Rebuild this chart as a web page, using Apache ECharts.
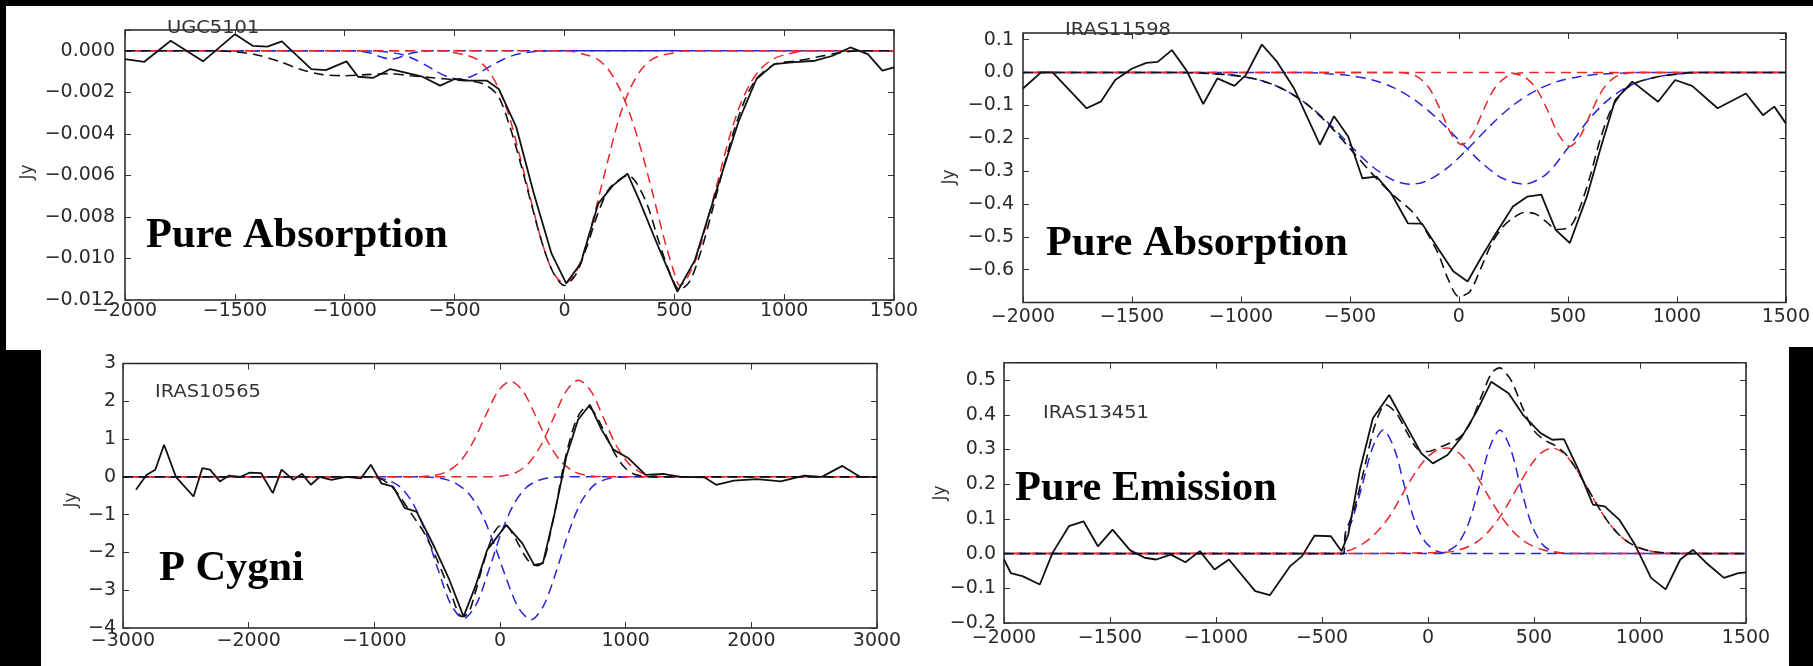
<!DOCTYPE html>
<html><head><meta charset="utf-8">
<script src="https://cdn.jsdelivr.net/npm/echarts@6/dist/echarts.min.js"></script>
<style>html,body{margin:0;padding:0;background:#fff}#c{width:1813px;height:666px}</style>
</head><body><div id="c"></div><script>
// ---------- Panel names / labels ----------
const panelNames = ['UGC5101', 'IRAS11598', 'IRAS10565', 'IRAS13451'];
const panelTypes = ['Pure Absorption', 'Pure Absorption', 'P Cygni', 'Pure Emission'];

// ---------- Tick labels ----------
const xTicks2000 = ['−2000', '−1500', '−1000', '−500', '0', '500', '1000', '1500'];
const xTicks3000 = ['−3000', '−2000', '−1000', '0', '1000', '2000', '3000'];
const ugcYTicks = ['0.000', '−0.002', '−0.004', '−0.006', '−0.008', '−0.010', '−0.012'];
const i11598YTicks = ['0.1', '0.0', '−0.1', '−0.2', '−0.3', '−0.4', '−0.5', '−0.6'];
const i10565YTicks = ['3', '2', '1', '0', '−1', '−2', '−3', '−4'];
const i13451YTicks = ['0.5', '0.4', '0.3', '0.2', '0.1', '0.0', '−0.1', '−0.2'];

// ---------- UGC5101 ----------
const ugcObs = [[-2000,-0.00040],[-1912,-0.00053],[-1792,0.00048],[-1645,-0.00051],[-1499,0.00080],[-1419,0.00024],[-1352,0.00020],[-1286,0.00045],[-1152,-0.00088],[-1086,-0.00093],[-992,-0.00051],[-939,-0.00125],[-872,-0.00131],[-792,-0.00088],[-646,-0.00125],[-566,-0.00168],[-499,-0.00136],[-432,-0.00144],[-352,-0.00144],[-299,-0.00184],[-219,-0.00368],[-139,-0.00688],[-59,-0.00976],[8,-0.01120],[74,-0.01024],[154,-0.00736],[221,-0.00648],[287,-0.00592],[341,-0.00720],[421,-0.00928],[514,-0.01160],[594,-0.01008],[687,-0.00688],[794,-0.00336],[874,-0.00136],[954,-0.00064],[1034,-0.00056],[1141,-0.00048],[1221,-0.00024],[1301,0.00016],[1381,-0.00016],[1447,-0.00096],[1500,-0.00080]];
const ugcFit = [[-2000,0],[-1600,0],[-1500,-0.00005],[-1400,-0.0002],[-1300,-0.0005],[-1200,-0.0009],[-1100,-0.00115],[-1000,-0.0012],[-900,-0.00115],[-800,-0.0011],[-700,-0.0012],[-600,-0.0013],[-500,-0.0014],[-400,-0.0015],[-350,-0.0017],[-300,-0.0022],[-250,-0.0036],[-200,-0.0054],[-150,-0.0074],[-100,-0.0093],[-50,-0.0107],[0,-0.0113],[50,-0.0108],[100,-0.0095],[150,-0.0079],[200,-0.0067],[250,-0.0062],[290,-0.0060],[330,-0.0064],[380,-0.0075],[430,-0.0092],[480,-0.0107],[525,-0.0115],[570,-0.0111],[620,-0.0097],[670,-0.0078],[720,-0.0058],[770,-0.0039],[820,-0.0024],[870,-0.0014],[920,-0.0009],[970,-0.0006],[1050,-0.0005],[1150,-0.0003],[1250,-0.0001],[1350,0],[1500,0]];
const ugcRed1 = [[-2000,0],[-550,0],[-500,-0.0001],[-450,-0.0002],[-400,-0.0004],[-350,-0.0009],[-300,-0.0018],[-250,-0.0032],[-200,-0.0052],[-150,-0.0073],[-100,-0.0093],[-50,-0.0107],[0,-0.0112],[50,-0.0107],[100,-0.0093],[150,-0.0073],[200,-0.0052],[250,-0.0032],[300,-0.0018],[350,-0.0009],[400,-0.0004],[450,-0.0002],[500,-0.0001],[550,0],[1500,0]];
const ugcRed2 = [[-2000,0],[0,0],[100,-0.0002],[150,-0.0004],[200,-0.0009],[250,-0.0018],[300,-0.0031],[350,-0.0048],[400,-0.0068],[450,-0.0089],[500,-0.0107],[525,-0.0113],[550,-0.0111],[600,-0.0100],[650,-0.0082],[700,-0.0062],[750,-0.0042],[800,-0.0026],[850,-0.0015],[900,-0.0008],[950,-0.0004],[1000,-0.0002],[1100,0],[1500,0]];
const ugcBlue1 = [[-2000,0],[-930,0],[-880,-0.00001],[-830,-0.00004],[-780,-0.000095],[-730,-0.00021],[-680,-0.00042],[-630,-0.0007],[-580,-0.00101],[-530,-0.00126],[-480,-0.00136],[-430,-0.00126],[-380,-0.00101],[-330,-0.0007],[-280,-0.00042],[-230,-0.00021],[-180,-0.000095],[-130,-0.00004],[-80,-0.00001],[0,0],[1500,0]];
const ugcBlue2 = [[-2000,0],[-950,0],[-890,-0.0001],[-840,-0.00028],[-790,-0.0004],[-740,-0.00028],[-690,-0.0001],[-640,-0.00002],[-600,0],[1500,0]];

// ---------- IRAS11598 ----------
const i11598Obs = [[-2000,-0.049],[-1917,0.0],[-1864,0.0],[-1708,-0.109],[-1643,-0.089],[-1577,-0.023],[-1499,0.012],[-1434,0.029],[-1382,0.032],[-1317,0.068],[-1251,0.007],[-1173,-0.096],[-1108,-0.018],[-1030,-0.041],[-978,-0.008],[-904,0.085],[-834,0.032],[-756,-0.049],[-638,-0.22],[-573,-0.133],[-508,-0.195],[-443,-0.322],[-378,-0.317],[-312,-0.367],[-234,-0.459],[-169,-0.46],[-91,-0.54],[-26,-0.605],[40,-0.636],[105,-0.56],[170,-0.489],[248,-0.408],[313,-0.378],[378,-0.372],[444,-0.479],[509,-0.519],[587,-0.378],[652,-0.226],[717,-0.084],[796,-0.028],[914,-0.089],[992,-0.023],[1070,-0.041],[1187,-0.109],[1317,-0.064],[1395,-0.13],[1447,-0.104],[1500,-0.155]];
const i11598Fit = [[-2000,0],[-1300,0],[-1100,-0.005],[-1000,-0.012],[-900,-0.026],[-800,-0.053],[-700,-0.096],[-600,-0.157],[-500,-0.231],[-400,-0.307],[-300,-0.374],[-200,-0.434],[-100,-0.544],[-50,-0.628],[0,-0.682],[50,-0.667],[100,-0.597],[150,-0.521],[200,-0.471],[250,-0.442],[300,-0.426],[350,-0.43],[400,-0.454],[450,-0.478],[509,-0.47],[550,-0.42],[600,-0.32],[650,-0.2],[700,-0.11],[750,-0.06],[800,-0.035],[900,-0.015],[1000,-0.005],[1100,0],[1500,0]];
const i11598Red1 = [[-2000,0],[-300,0],[-236,-0.003],[-186,-0.015],[-136,-0.048],[-86,-0.112],[-36,-0.186],[14,-0.22],[64,-0.186],[114,-0.112],[164,-0.048],[214,-0.015],[264,-0.003],[330,0],[1500,0]];
const i11598Red2 = [[-2000,0],[200,0],[259,-0.004],[309,-0.017],[359,-0.053],[409,-0.118],[459,-0.191],[509,-0.225],[559,-0.191],[609,-0.118],[659,-0.053],[709,-0.017],[759,-0.004],[820,0],[1500,0]];
const i11598Blue1 = [[-2000,0],[-1300,0],[-1200,-0.002],[-1100,-0.005],[-1000,-0.012],[-900,-0.026],[-800,-0.053],[-700,-0.095],[-600,-0.153],[-500,-0.221],[-400,-0.285],[-300,-0.328],[-221,-0.34],[-150,-0.331],[-50,-0.289],[50,-0.226],[150,-0.158],[250,-0.099],[350,-0.056],[450,-0.028],[550,-0.013],[650,-0.005],[750,-0.002],[850,0],[1500,0]];
const i11598Blue2 = [[-2000,0],[-700,0],[-600,-0.004],[-500,-0.0097],[-400,-0.022],[-300,-0.046],[-200,-0.085],[-100,-0.14],[0,-0.206],[100,-0.272],[200,-0.322],[300,-0.34],[400,-0.31],[500,-0.23],[600,-0.14],[700,-0.075],[800,-0.035],[900,-0.015],[1000,-0.005],[1100,0],[1500,0]];

// ---------- IRAS10565 ----------
const i10565Obs = [[-2897,-0.34],[-2813,0.05],[-2743,0.19],[-2673,0.85],[-2579,0.0],[-2439,-0.52],[-2369,0.23],[-2308,0.19],[-2229,-0.12],[-2159,0.03],[-2065,0.0],[-1995,0.11],[-1902,0.1],[-1808,-0.43],[-1738,0.19],[-1645,-0.08],[-1575,0.08],[-1505,-0.21],[-1435,0.0],[-1341,-0.08],[-1224,0.0],[-1107,-0.04],[-1028,0.32],[-944,-0.17],[-850,-0.26],[-757,-0.83],[-664,-0.92],[-523,-1.85],[-407,-2.69],[-290,-3.7],[-196,-2.9],[-103,-1.94],[50,-1.27],[178,-1.76],[271,-2.33],[341,-2.29],[435,-0.96],[528,0.54],[621,1.51],[715,1.91],[808,1.25],[902,0.72],[1019,0.5],[1159,0.05],[1299,0.08],[1439,0.0],[1626,-0.01],[1720,-0.21],[1860,-0.1],[2047,-0.06],[2234,-0.12],[2421,0.03],[2561,0.0],[2724,0.29],[2864,0.0],[2950,0.0]];
const i10565Fit = [[-3000,0],[-1000,0],[-950,-0.05],[-900,-0.15],[-850,-0.3],[-800,-0.5],[-750,-0.75],[-700,-1.0],[-600,-1.5],[-500,-2.2],[-400,-3.0],[-300,-3.7],[-250,-3.6],[-200,-3.1],[-150,-2.5],[-100,-1.95],[-50,-1.5],[0,-1.3],[50,-1.3],[100,-1.5],[150,-1.8],[200,-2.1],[250,-2.3],[300,-2.35],[350,-2.2],[400,-1.5],[450,-0.7],[500,0.2],[550,0.9],[600,1.45],[650,1.75],[700,1.85],[750,1.7],[800,1.4],[850,1.05],[900,0.7],[950,0.42],[1000,0.22],[1050,0.1],[1100,0.04],[1200,0],[3000,0]];
const i10565Red1 = [[-3000,0],[-700,0],[-616,0.01],[-516,0.04],[-416,0.15],[-316,0.41],[-216,0.91],[-116,1.61],[-16,2.26],[84,2.53],[184,2.26],[284,1.61],[384,0.91],[484,0.41],[584,0.15],[684,0.04],[784,0.01],[900,0],[3000,0]];
const i10565Red2 = [[-3000,0],[-100,0],[25,0.03],[125,0.11],[225,0.35],[325,0.83],[425,1.55],[525,2.26],[625,2.56],[725,2.26],[825,1.55],[925,0.83],[1025,0.35],[1125,0.11],[1225,0.03],[1350,0],[3000,0]];
const i10565Blue1 = [[-3000,0],[-1100,0],[-990,-0.02],[-890,-0.09],[-790,-0.28],[-690,-0.72],[-590,-1.48],[-490,-2.48],[-390,-3.38],[-290,-3.75],[-190,-3.38],[-90,-2.48],[10,-1.48],[110,-0.72],[210,-0.28],[310,-0.09],[410,-0.02],[500,0],[3000,0]];
const i10565Blue2 = [[-3000,0],[-650,0],[-552,-0.01],[-452,-0.05],[-352,-0.17],[-252,-0.43],[-152,-0.94],[-52,-1.73],[48,-2.67],[148,-3.47],[248,-3.78],[348,-3.4],[448,-2.5],[548,-1.45],[648,-0.65],[748,-0.22],[848,-0.06],[948,-0.01],[1050,0],[3000,0]];

// ---------- IRAS13451 ----------
const i13451Obs = [[-2000,-0.017],[-1968,-0.056],[-1913,-0.065],[-1831,-0.089],[-1771,0.002],[-1694,0.079],[-1625,0.093],[-1557,0.021],[-1488,0.069],[-1406,0.01],[-1337,-0.012],[-1282,-0.017],[-1213,-0.003],[-1144,-0.025],[-1076,0.007],[-1007,-0.046],[-939,-0.017],[-815,-0.108],[-746,-0.12],[-650,-0.036],[-595,-0.008],[-535,0.052],[-458,0.05],[-408,0.007],[-376,0.055],[-321,0.241],[-260,0.39],[-183,0.457],[-101,0.366],[-32,0.289],[23,0.26],[92,0.284],[160,0.337],[229,0.409],[298,0.495],[380,0.462],[449,0.399],[531,0.347],[586,0.328],[641,0.33],[710,0.241],[778,0.141],[833,0.136],[902,0.098],[976,0.026],[1052,-0.07],[1121,-0.103],[1190,-0.017],[1250,0.011],[1313,-0.027],[1396,-0.07],[1464,-0.056],[1500,-0.054]];
const i13451Fit = [[-2000,0],[-400,0],[-390,0.058],[-350,0.123],[-300,0.246],[-250,0.37],[-200,0.429],[-150,0.405],[-100,0.35],[-50,0.302],[0,0.294],[50,0.305],[100,0.318],[150,0.335],[200,0.376],[250,0.45],[300,0.52],[339,0.535],[380,0.51],[400,0.49],[450,0.415],[500,0.354],[550,0.327],[600,0.311],[650,0.286],[700,0.243],[750,0.191],[800,0.138],[850,0.091],[900,0.055],[950,0.031],[1000,0.016],[1050,0.007],[1100,0.003],[1200,0],[1500,0]];
const i13451Red1 = [[-2000,0],[-400,0],[-390,0.006],[-358,0.012],[-308,0.028],[-258,0.052],[-208,0.085],[-158,0.13],[-108,0.185],[-58,0.235],[-8,0.275],[42,0.298],[92,0.304],[142,0.292],[192,0.258],[242,0.211],[292,0.158],[342,0.11],[392,0.07],[442,0.041],[492,0.022],[542,0.011],[592,0.005],[700,0],[1500,0]];
const i13451Red2 = [[-2000,0],[-390,0],[86,0.004],[136,0.009],[186,0.019],[236,0.036],[286,0.064],[336,0.103],[386,0.152],[436,0.206],[486,0.256],[536,0.291],[586,0.304],[636,0.291],[686,0.256],[736,0.206],[786,0.152],[836,0.103],[886,0.064],[936,0.036],[986,0.019],[1036,0.009],[1086,0.004],[1150,0],[1500,0]];
const i13451Blue1 = [[-2000,0],[-400,0],[-390,0.05],[-361,0.091],[-311,0.195],[-261,0.306],[-211,0.356],[-161,0.306],[-111,0.195],[-61,0.091],[-11,0.032],[39,0.008],[89,0.001],[150,0],[1500,0]];
const i13451Blue2 = [[-2000,0],[50,0],[89,0.006],[139,0.027],[189,0.083],[239,0.187],[289,0.303],[339,0.356],[389,0.303],[439,0.187],[489,0.083],[539,0.027],[589,0.006],[650,0],[1500,0]];

// ---------- Build ----------
const RED = '#e8262b', BLUE = '#2626d8', BLK = '#111';
const panels = [
  {grid:{left:125, top:30, width:769, height:270}, x:[-2000,1500,500,xTicks2000,0], y:[-0.012,0.001,0.002,ugcYTicks,3], xm:2, ym:10,
   obs:ugcObs, fit:ugcFit, reds:[ugcRed1,ugcRed2], blues:[ugcBlue1,ugcBlue2]},
  {grid:{left:1023, top:33, width:765, height:269.5}, x:[-2000,1500,500,xTicks2000,0], y:[-0.7,0.12,0.1,i11598YTicks,1], xm:5, ym:9,
   obs:i11598Obs, fit:i11598Fit, reds:[i11598Red1,i11598Red2], blues:[i11598Blue1,i11598Blue2]},
  {grid:{left:123, top:363.5, width:754, height:264.5}, x:[-3000,3000,1000,xTicks3000,0], y:[-4,3,1,i10565YTicks,0], xm:4, ym:7,
   obs:i10565Obs, fit:i10565Fit, reds:[i10565Red1,i10565Red2], blues:[i10565Blue1,i10565Blue2]},
  {grid:{left:1004, top:362.7, width:742, height:260.3}, x:[-2000,1500,500,xTicks2000,0], y:[-0.2,0.55,0.1,i13451YTicks,1], xm:6, ym:8,
   obs:i13451Obs, fit:i13451Fit, reds:[i13451Red1,i13451Red2], blues:[i13451Blue1,i13451Blue2]}
];
function fmt(dec, list) {
  return function (v) {
    if (Math.abs(v) < 1e-9) v = 0;
    const s = v.toFixed(dec).replace('-', '−');
    return list.indexOf(s) >= 0 ? s : '';
  };
}
const tickStyle = {inside:true, length:6, lineStyle:{color:'#333', width:1}};
const labelFont = {color:'#2a2a2a', fontSize:19, fontFamily:'DejaVu Sans'};
const grid = [], xAxis = [], yAxis = [], series = [];
panels.forEach((p, i) => {
  grid.push(Object.assign({show:true, borderColor:'#222', borderWidth:1.5, backgroundColor:'rgba(0,0,0,0)'}, p.grid));
  const xb = {type:'value', gridIndex:i, min:p.x[0], max:p.x[1], interval:p.x[2], position:'bottom',
    axisLine:{show:false, onZero:false}, axisTick:tickStyle, splitLine:{show:false},
    axisLabel:Object.assign({formatter:fmt(p.x[4], p.x[3]), margin:p.xm}, labelFont)};
  const xt = {type:'value', gridIndex:i, min:p.x[0], max:p.x[1], interval:p.x[2], position:'top',
    axisLine:{show:false, onZero:false}, axisTick:tickStyle, splitLine:{show:false}, axisLabel:{show:false}};
  const yl = {type:'value', gridIndex:i, min:p.y[0], max:p.y[1], interval:p.y[2], position:'left',
    axisLine:{show:false, onZero:false}, axisTick:tickStyle, splitLine:{show:false},
    axisLabel:Object.assign({formatter:fmt(p.y[4], p.y[3]), margin:p.ym}, labelFont)};
  const yr = {type:'value', gridIndex:i, min:p.y[0], max:p.y[1], interval:p.y[2], position:'right',
    axisLine:{show:false, onZero:false}, axisTick:tickStyle, splitLine:{show:false}, axisLabel:{show:false}};
  xAxis.push(xb, xt); yAxis.push(yl, yr);
  const ax = {xAxisIndex:2*i, yAxisIndex:2*i, type:'line', showSymbol:false, symbol:'none', silent:true};
  series.push(Object.assign({}, ax, {data:p.obs, z:6, lineStyle:{color:BLK, width:1.8}}));
  series.push(Object.assign({}, ax, {data:p.fit, z:5, smooth:0.3, lineStyle:{color:BLK, width:1.6, type:[10,6], dashOffset:0}}));
  p.reds.forEach(d => series.push(Object.assign({}, ax, {data:d, z:4, smooth:0.3, lineStyle:{color:RED, width:1.5, type:[10,6], dashOffset:8}})));
  p.blues.forEach(d => series.push(Object.assign({}, ax, {data:d, z:3, smooth:0.3, lineStyle:{color:BLUE, width:1.5, type:[10,6], dashOffset:3}})));
});

const nameLoc = [[167,28],[1065,30],[155,392],[1043,413]];
const typeLoc = [[146,236],[1046,244],[159,569],[1015,489]];
const jyLoc = [[28,172],[950,177],[72,500],[941,493]];
const graphic = [
  {type:'rect', shape:{x:0,y:0,width:1813,height:6}, style:{fill:'#000'}, z:100},
  {type:'rect', shape:{x:0,y:0,width:6,height:350}, style:{fill:'#000'}, z:100},
  {type:'rect', shape:{x:0,y:350,width:41,height:316}, style:{fill:'#000'}, z:100},
  {type:'rect', shape:{x:1789,y:347,width:24,height:319}, style:{fill:'#000'}, z:100}
];
panelNames.forEach((t, i) => graphic.push({type:'text', x:nameLoc[i][0], y:nameLoc[i][1], scaleX:1.08, z:50,
  style:{text:t, fill:'#333', fontSize:18, fontFamily:'DejaVu Sans', align:'left', verticalAlign:'middle'}}));
panelTypes.forEach((t, i) => graphic.push({type:'text', x:typeLoc[i][0], y:typeLoc[i][1], scaleX:1.06, scaleY:1.05, z:50,
  style:{text:t, fill:'#000', fontSize:40, fontWeight:'bold', fontFamily:'Liberation Serif', align:'left', verticalAlign:'middle'}}));
jyLoc.forEach(l => graphic.push({type:'text', x:l[0], y:l[1], rotation:Math.PI/2, z:50,
  style:{text:'Jy', fill:'#333', fontSize:17, fontFamily:'DejaVu Sans', align:'center', verticalAlign:'middle'}}));

const chart = echarts.init(document.getElementById('c'));
chart.setOption({animation:false, backgroundColor:'#fff', grid, xAxis, yAxis, series, graphic});
</script></body></html>
